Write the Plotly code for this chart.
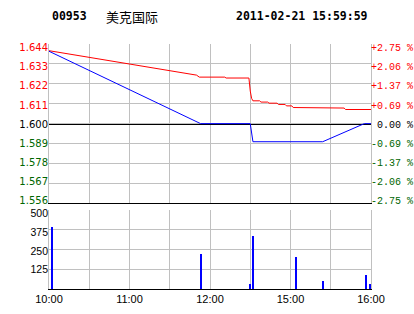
import plotly.graph_objects as go

# ---- data ----
stock_code = "00953"
stock_name = "美克国际"
timestamp = "2011-02-21 15:59:59"

prev_close = 1.600
price_ticks = [1.556, 1.567, 1.578, 1.589, 1.600, 1.611, 1.622, 1.633, 1.644]
price_tick_labels = ["1.556", "1.567", "1.578", "1.589", "1.600", "1.611", "1.622", "1.633", "1.644"]
pct_ticks = [-2.75, -2.0625, -1.375, -0.6875, 0.0, 0.6875, 1.375, 2.0625, 2.75]
pct_tick_labels = ["-2.75 %", "-2.06 %", "-1.37 %", "-0.69 %", "\u00a00.00 %", "+0.69 %", "+1.37 %", "+2.06 %", "+2.75 %"]

# minute index since 10:00 (0..150 = 10:00-12:30, 150..240 = 14:30-16:00)
grid_minutes = [0, 30, 60, 90, 120, 150, 180, 210, 240]
time_labels = ["10:00", "", "11:00", "", "12:00", "", "15:00", "", "16:00"]

price_t = [0, 113, 150, 152, 204, 235, 240]
price_v = [1.640, 1.600, 1.600, 1.590, 1.590, 1.600, 1.600]

avg_t = [0, 66, 110, 112, 131, 132, 149, 150, 151, 152, 157, 158, 163, 164, 170, 171,
         176, 177, 181, 182, 193, 194, 220, 221, 240]
avg_v = [1.6403, 1.6320, 1.6268, 1.6257, 1.6257, 1.6252, 1.6252, 1.6180, 1.6140, 1.6126,
         1.6126, 1.6119, 1.6119, 1.6113, 1.6113, 1.6106, 1.6106, 1.6098, 1.6098, 1.6089,
         1.6089, 1.6086, 1.6086, 1.6078, 1.6078]

vol_t = [2, 113, 150, 152, 184, 204, 236, 239]
vol_v = [392, 223, 34, 337, 203, 51, 89, 32]
vol_ticks = [125, 250, 375, 500]
vol_tick_labels = ["125", "250", "375", "500"]

# ---- styling ----
RED = "#ff0000"
GREEN = "#006600"
GRID = "#c0c0c0"


def colored(labels, values, ref):
    out = []
    for lab, v in zip(labels, values):
        if abs(v - ref) < 1e-9:
            c = "#000000"
        elif v > ref:
            c = RED
        else:
            c = GREEN
        out.append(f'<span style="color:{c}">{lab}</span>')
    return out


fig = go.Figure()
fig.add_trace(go.Scatter(x=avg_t, y=avg_v, mode="lines", line=dict(color=RED, width=1),
                         xaxis="x", yaxis="y", showlegend=False, hoverinfo="skip"))
fig.add_trace(go.Scatter(x=price_t, y=price_v, mode="lines", line=dict(color="#0000ff", width=1),
                         xaxis="x", yaxis="y", showlegend=False, hoverinfo="skip"))
fig.add_trace(go.Scatter(x=[None], y=[None], mode="lines", xaxis="x", yaxis="y2",
                         showlegend=False, hoverinfo="skip"))
fig.add_trace(go.Scatter(x=[None], y=[None], mode="lines", xaxis="x", yaxis="y4",
                         showlegend=False, hoverinfo="skip"))
fig.add_trace(go.Bar(x=vol_t, y=vol_v, width=0.8, marker=dict(color="#0000ff", line=dict(width=0)),
                     xaxis="x2", yaxis="y3", showlegend=False, hoverinfo="skip"))
fig.add_trace(go.Scatter(x=[None], y=[None], mode="lines", xaxis="x2", yaxis="y5",
                         showlegend=False, hoverinfo="skip"))

# label axes are slightly wider than the grid axes so the end labels sit inside the panel
price_label_range = [1.5544, 1.6462]
pct_label_range = [-2.853, 2.889]
vol_label_range = [-2, 523]

fig.update_layout(
    width=414, height=314,
    margin=dict(l=49, r=43, t=44, b=25, pad=0),
    paper_bgcolor="white", plot_bgcolor="white",
    bargap=0,
    xaxis=dict(domain=[0, 1], anchor="y", range=[0, 240], tickmode="array", tickvals=grid_minutes,
               showticklabels=False, ticks="", showgrid=True, gridcolor=GRID, gridwidth=1,
               showline=True, linecolor="black", linewidth=1, zeroline=False, automargin=False),
    yaxis=dict(domain=[0.35, 1], anchor="x", range=[1.556, 1.644], tickmode="array",
               tickvals=price_ticks, showticklabels=False, ticks="",
               showgrid=True, gridcolor=GRID, gridwidth=1, zeroline=False,
               showline=True, linecolor=GRID, linewidth=1, mirror=True, automargin=False),
    yaxis4=dict(overlaying="y", anchor="x", side="left", range=price_label_range, tickmode="array",
                tickvals=price_ticks, ticktext=colored(price_tick_labels, price_ticks, prev_close),
                tickfont=dict(family="DejaVu Sans", size=10), ticks="",
                showgrid=False, zeroline=False, showline=False, automargin=False),
    yaxis2=dict(overlaying="y", anchor="x", side="right", range=pct_label_range, tickmode="array",
                tickvals=pct_ticks, ticktext=colored(pct_tick_labels, pct_ticks, 0.0),
                tickfont=dict(family="Liberation Mono", size=10), ticks="",
                showgrid=False, zeroline=True, zerolinecolor="black", zerolinewidth=1,
                showline=False, automargin=False, ticklabelstandoff=-1),
    xaxis2=dict(domain=[0, 1], anchor="y3", range=[0, 240], tickmode="array", tickvals=grid_minutes,
                ticktext=time_labels, tickfont=dict(family="Liberation Sans", size=11, color="black"),
                ticks="", showgrid=True, gridcolor=GRID, gridwidth=1,
                showline=True, linecolor="black", linewidth=1, zeroline=False, automargin=False),
    yaxis3=dict(domain=[0, 0.324], anchor="x2", range=[0, 500], tickmode="array",
                tickvals=vol_ticks, showticklabels=False, ticks="",
                showgrid=True, gridcolor=GRID, gridwidth=1, zeroline=False,
                showline=True, linecolor=GRID, linewidth=1, mirror=True, automargin=False),
    yaxis5=dict(overlaying="y3", anchor="x2", side="left", range=vol_label_range, tickmode="array",
                tickvals=vol_ticks, ticktext=vol_tick_labels,
                tickfont=dict(family="Liberation Sans", size=10.5, color="black"), ticks="",
                showgrid=False, zeroline=False, showline=False, automargin=False),
    annotations=[
        dict(text=stock_code, xref="paper", yref="paper", x=0.003, y=1.114, xanchor="left",
             yanchor="middle", showarrow=False,
             font=dict(family="DejaVu Sans Mono", size=11.5, color="black", weight="bold")),
        dict(text=stock_name, xref="paper", yref="paper", x=0.171, y=1.114, xanchor="left",
             yanchor="middle", showarrow=False,
             font=dict(family="Noto Sans CJK SC", size=13, color="black")),
        dict(text=timestamp, xref="paper", yref="paper", x=0.997, y=1.114, xanchor="right",
             yanchor="middle", showarrow=False,
             font=dict(family="DejaVu Sans Mono", size=11.5, color="black", weight="bold")),
    ],
)

fig.write_html("out.html")
